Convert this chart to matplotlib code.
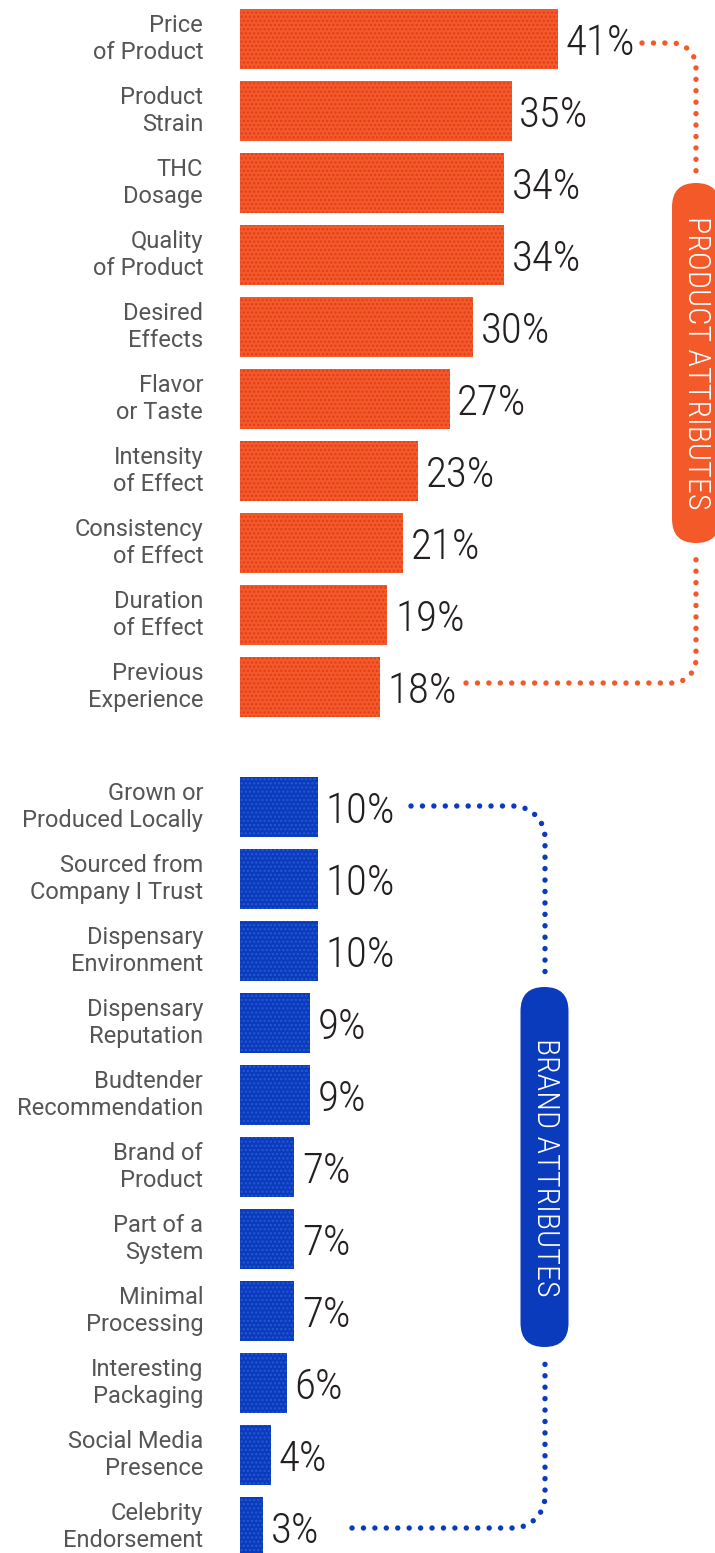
import matplotlib
matplotlib.use("Agg")
import matplotlib.pyplot as plt
from matplotlib import font_manager
from matplotlib.patches import FancyBboxPatch
import numpy as np

# --- data -------------------------------------------------------------
product_labels = [
    "Price\nof Product", "Product\nStrain", "THC\nDosage", "Quality\nof Product",
    "Desired\nEffects", "Flavor\nor Taste", "Intensity\nof Effect",
    "Consistency\nof Effect", "Duration\nof Effect", "Previous\nExperience",
]
product_values = [41, 35, 34, 34, 30, 27, 23, 21, 19, 18]

brand_labels = [
    "Grown or\nProduced Locally", "Sourced from\nCompany I Trust",
    "Dispensary\nEnvironment", "Dispensary\nReputation",
    "Budtender\nRecommendation", "Brand of\nProduct", "Part of a\nSystem",
    "Minimal\nProcessing", "Interesting\nPackaging", "Social Media\nPresence",
    "Celebrity\nEndorsement",
]
brand_values = [10, 10, 10, 9, 9, 7, 7, 7, 6, 4, 3]

group_titles = ["PRODUCT ATTRIBUTES", "BRAND ATTRIBUTES"]

# --- style ------------------------------------------------------------
ORANGE, ORANGE_DOT = "#f4592a", "#e03d1c"
BLUE, BLUE_DOT = "#0a3bbd", "#2558d0"
LABEL_GREY = "#555557"
VALUE_INK = "#231f20"

W, H = 715, 1553          # canvas, px
BAR_X0 = 240              # px where bars start
PX_PER_PCT = 7.76
ROW = 72                  # px per row
FIRST_ROW = 39            # centre of first row, px
GROUP_GAP = 48 / ROW      # extra space between the two groups, in rows


def _narrow_family():
    names = {f.name for f in font_manager.fontManager.ttflist}
    for fam in ["Roboto Condensed", "Liberation Sans Narrow",
                "Open Sans Condensed", "DejaVu Sans Condensed"]:
        if fam in names:
            return fam
    return "DejaVu Sans"


NARROW = _narrow_family()
LABEL_FONT = ["Roboto", "DejaVu Sans"]

fig = plt.figure(figsize=(W / 100, H / 100), dpi=100)

# bar axes: x in percent, y in rows
ax = fig.add_axes([BAR_X0 / W, 0, (W - BAR_X0) / W, 1])
ax.set_xlim(0, (W - BAR_X0) / PX_PER_PCT)
ax.set_ylim((H - FIRST_ROW) / ROW, -FIRST_ROW / ROW)
ax.axis("off")

prod_y = np.arange(len(product_values))
brand_y = np.arange(len(brand_values)) + len(product_values) + GROUP_GAP

plt.rcParams["hatch.linewidth"] = 1.1
for ys, vals, labels, face, dot in [
    (prod_y, product_values, product_labels, ORANGE, ORANGE_DOT),
    (brand_y, brand_values, brand_labels, BLUE, BLUE_DOT),
]:
    ax.barh(ys, vals, height=60 / ROW, color=face, edgecolor=dot,
            linewidth=0, hatch="....", zorder=2)
    for y, v, lab in zip(ys, vals, labels):
        ax.annotate(f"{v}%", xy=(v, y), xytext=(5.5, -3.5),
                    textcoords="offset points", ha="left", va="center",
                    fontsize=31, family=NARROW, fontweight="light",
                    color=VALUE_INK)
        ax.annotate(lab, xy=(0, y), xytext=(-26.5, 0),
                    textcoords="offset points", ha="right", va="center",
                    fontsize=17, family=LABEL_FONT, color=LABEL_GREY,
                    linespacing=1.22)

# overlay in pixel coordinates for the pills and dotted connectors
deco = fig.add_axes([0, 0, 1, 1], zorder=3)
deco.set_xlim(0, W)
deco.set_ylim(H, 0)
deco.axis("off")


def connector(x0, y0, x_turn, radius, y1, down=True):
    """Horizontal run from (x0, y0), quarter turn, then vertical to y1."""
    sgn = 1 if down else -1
    t = np.linspace(0, np.pi / 2, 20)
    cx, cy = x_turn, y0 + sgn * radius
    arc_x = cx + radius * np.sin(t)
    arc_y = cy - sgn * radius * np.cos(t)
    xs = np.concatenate([[x0], arc_x, [x_turn + radius]])
    ys = np.concatenate([[y0], arc_y, [y1]])
    return xs, ys


def dotted(xs, ys, color):
    deco.plot(xs, ys, color=color, lw=3.9, dashes=(0.01, 2.1),
              dash_capstyle="round", solid_capstyle="round")


pills = [
    # colour, centre x, top, bottom
    (ORANGE, 696, 183, 543),
    (BLUE, 544.5, 987, 1347),
]
for (color, cx, top, bot), title in zip(pills, group_titles):
    deco.add_patch(FancyBboxPatch((cx - 24, top), 48, bot - top,
                                  boxstyle="round,pad=0,rounding_size=24",
                                  facecolor=color, edgecolor="none"))
    deco.text(cx + 1, (top + bot) / 2, title, rotation=270, color="white",
              ha="center", va="center", rotation_mode="anchor",
              fontsize=23, family=NARROW, fontweight="light")

# product connectors
xs, ys = connector(642, 43, 672, 24, 178)
dotted(xs, ys, ORANGE)
xs, ys = connector(466, 683, 672, 24, 550, down=False)
dotted(xs, ys, ORANGE)
# brand connectors
xs, ys = connector(411, 806, 513, 32, 980)
dotted(xs, ys, BLUE)
xs, ys = connector(352, 1528, 513, 32, 1354, down=False)
dotted(xs, ys, BLUE)

fig.savefig("out.png", dpi=100)
